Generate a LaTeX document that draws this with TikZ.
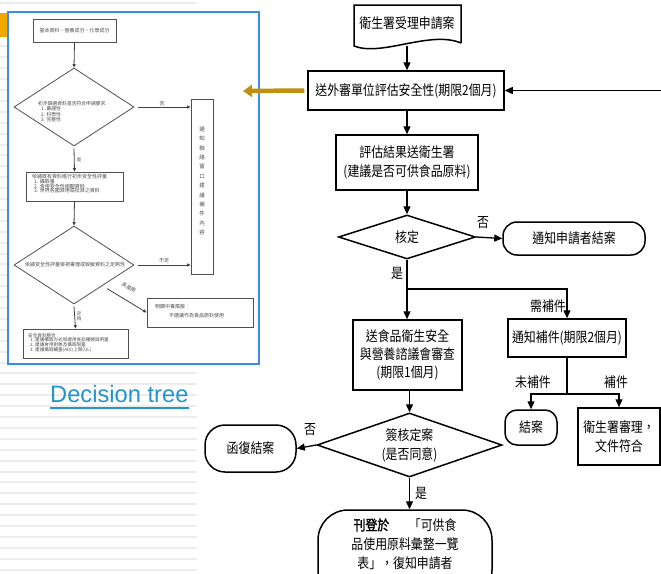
\documentclass[tikz,border=0pt]{standalone}
\usepackage{fontspec}
\setmainfont{Liberation Sans}
\newfontfamily\cjk[FakeStretch=0.85,AutoFakeBold=2]{Noto Sans CJK TC}
\newfontfamily\cjks{Noto Sans CJK TC}
\usetikzlibrary{arrows.meta,shapes.geometric,calc}
\definecolor{gold}{HTML}{C0900F}
\definecolor{insetblue}{HTML}{3D8BE8}
\definecolor{orangebar}{HTML}{F0A800}
\definecolor{linkblue}{HTML}{2394C8}
\definecolor{stripe}{HTML}{EDEDED}
\definecolor{ingray}{HTML}{505050}
\begin{document}
\begin{tikzpicture}[x=1pt,y=-1pt,
  txt/.style={font=\cjk\fontsize{14}{19}\selectfont},
  box/.style={draw,line width=1.5pt,inner sep=0pt,align=center,txt},
  term/.style={box},
  dia/.style={draw,diamond,line width=1.5pt,inner sep=0pt,align=center,txt},
  lbl/.style={txt,inner sep=0pt},
  ln/.style={line width=1.3pt},
  arr/.style={line width=1.3pt,-{Triangle[length=8pt,width=7pt]}},
  goldarr/.style={line width=4.5pt,gold,-{Triangle[length=9pt,width=12pt]}},
  ibox/.style={draw=ingray,line width=0.8pt,inner sep=0pt},
  idia/.style={draw=ingray,line width=0.8pt,diamond,inner sep=0pt},
  itxt/.style={font=\cjks\fontsize{5}{4.8}\selectfont,text=black!70,inner sep=0pt,align=left},
  iarr/.style={draw=black!75,line width=0.8pt,-{Triangle[length=3.5pt,width=3pt]}}]
\useasboundingbox (0,0) rectangle (661,573);
\clip (0,0) rectangle (661,573);
\fill[white] (0,0) rectangle (661,573);
\foreach \k in {0,...,52} \fill[stripe] (0,{1.8+10.9*\k}) rectangle (197,{3.8+10.9*\k});
\fill[orangebar] (0,13) rectangle (8,37);

% ---------- inset ----------
\fill[white] (8,12) rectangle (259,364);
\draw[insetblue,line width=1.5pt] (8,12) rectangle (259,364);
\node[ibox,minimum width=83,minimum height=23] (i1) at (74.5,30.5) {};
\node[itxt] (i1t) at (74.5,30.5) {基本資料、營養成分、化學成分};
\node[idia,minimum width=120,minimum height=78] (id1) at (74,107) {};
\node[itxt,anchor=north west,font=\cjks\fontsize{4.8}{3.8}\selectfont] (id1t) at (38,101) {初步篩選資料是否符合申請要求\\\hspace{0.6em}1. 嚴謹性\\\hspace{0.6em}2. 科學性\\\hspace{0.6em}3. 完整性};
\node[ibox,minimum width=22,minimum height=175] (i2) at (202,186.5) {};
\node[itxt,align=center,font=\cjks\fontsize{5.5}{9.4}\selectfont] (i2t) at (202,181) {通\\知\\聯\\絡\\窗\\口\\建\\議\\補\\件\\內\\容};
\node[ibox,minimum width=97,minimum height=29] (ib2) at (74.5,186.5) {};
\node[itxt,anchor=north west] (ib2t) at (32,174) {依據既有資料進行初步安全性評量\\\hspace{0.4em}1. 攝取量\\\hspace{0.4em}2. 食用安全性相關資料\\\hspace{0.4em}3. 世界各國准用或批准之資料};
\node[idia,minimum width=120,minimum height=78] (id2) at (74,265) {};
\node[itxt] (id2t) at (75,265) {依據安全性評量檢視毒理或致敏資料之足夠性};
\node[ibox,minimum width=106,minimum height=29] (ib3) at (200,312.5) {};
\node[itxt,anchor=north west,font=\cjks\fontsize{5}{9}\selectfont] (ib3t) at (155,304) {明顯中毒風險：\\\hspace{2.8em}不建議作為食品原料使用};
\node[ibox,minimum width=105,minimum height=29] (ib4) at (75.5,343.5) {};
\node[itxt,anchor=north west,font=\cjks\fontsize{4.6}{4.9}\selectfont] (ib4t) at (28,333) {安全資料整合：\\\hspace{0.4em}1. 建議攝取方式和適用食品種類與用量\\\hspace{0.4em}2. 建議食用對象及攝取限量\\\hspace{0.4em}3. 建議攝取輔量(ADI)上限(UL)};

\draw[iarr] (i1.south) -- (id1.north);
\draw[iarr] ([xshift=4pt]id1.east) -- (id1.east -| i2.west);
\draw[iarr] ([yshift=-2pt]id1.south) -- (ib2.north);
\draw[iarr] (ib2.south) -- (id2.north);
\draw[iarr] ([xshift=4pt]id2.east) -- (id2.east -| i2.west);
\draw[iarr] ([shift={(3pt,-4pt)}]id2.south east) -- (ib3.west);
\draw[iarr] ([yshift=-2pt]id2.south) -- (ib4.north);
\node[itxt] (il1) at (162,103.5) {否};
\node[itxt,align=center,font=\cjks\fontsize{4.5}{5}\selectfont] (il2) at (79,160) {是};
\node[itxt] (il3) at (164,260.5) {不足};
\node[itxt,rotate=-27] (il4) at (129,287.5) {具風險};
\node[itxt,align=center,font=\cjks\fontsize{4.5}{5}\selectfont] (il5) at (79,316) {足\\夠};

% ---------- Decision tree ----------
\node[font=\fontsize{23.7}{26}\selectfont,text=linkblue,inner sep=0pt,anchor=south west] (dt) at (50,403) {Decision tree};
\draw[linkblue,line width=1.4pt] ([yshift=-5pt]dt.south west) -- ([yshift=-5pt]dt.south east);

% ---------- right flowchart ----------
\draw[line width=1.5pt,line join=miter] (461,43) -- (461,5) -- (354,5) -- (354,46) .. controls (382,57) and (430,30) .. (461,43);
\node[txt,inner sep=0pt] (doc) at (407,23) {衛生署受理申請案};
\coordinate (docb) at (407,46);

\node[box,minimum width=196,minimum height=39] (b1) at (406,90.5) {送外審單位評估安全性(期限2個月)};
\node[box,minimum width=142,minimum height=55] (b2) at (407,162.5) {評估結果送衛生署\\(建議是否可供食品原料)};
\node[dia,minimum width=137,minimum height=44,aspect=3.1] (d1) at (407,237) {核定};
\node[term,rounded corners=14pt,minimum width=142,minimum height=33] (t1) at (574,238.5) {通知申請者結案};
\node[box,minimum width=109,minimum height=70,font=\cjk\fontsize{14}{18}\selectfont] (b3) at (407.5,355) {送食品衛生安全\\與營養諮議會審查\\(期限1個月)};
\node[box,minimum width=118,minimum height=38] (b4) at (567,338) {通知補件(期限2個月)};
\node[term,rounded corners=12pt,minimum width=52,minimum height=35] (t2) at (531,427.5) {結案};
\node[box,minimum width=82,minimum height=57] (b5) at (619,436.5) {衛生署審理，\\文件符合};
\node[dia,minimum width=185,minimum height=64,aspect=2.9] (d2) at (409.5,445) {簽核定案\\(是否同意)};
\node[term,rounded corners=20pt,minimum width=91,minimum height=47] (t3) at (250.5,448.5) {函復結案};
\node[term,rounded corners=30pt,minimum width=174,minimum height=90] (t4) at (405,555) {};
\node[txt,align=center,inner sep=0pt] (t4x) at (405,544) {\textbf{刊登於}\hspace{1.4em}「可供食\\品使用原料彙整一覽\\表」，復知申請者};

\coordinate (goldtip) at (243,91);
\coordinate (rin) at (662,90.5);
\coordinate (split1) at (407,289);
\coordinate (c4) at (567,289);
\coordinate (split2) at (567,394);

\draw[arr] (docb) -- (docb |- b1.north);
\draw[goldarr] ([xshift=-3pt]b1.west) -- (goldtip);
\draw[arr] (rin) -- (b1.east);
\draw[arr] (b2.north |- b1.south) -- (b2.north);
\draw[arr] (b2.south) -- (d1.north);
\draw[arr] (d1.east) -- (t1.west);
\draw[ln] (d1.south) -- (split1);
\draw[arr] (split1) -- (split1 |- b3.north);
\draw[arr] (split1) -- (c4) -- (b4.north);
\draw[ln] (b4.south) -- (split2);
\draw[arr] (split2) -| (t2.north);
\draw[arr] (split2) -| (b5.north);
\draw[arr] (d2.north |- b3.south) -- (d2.north);
\draw[arr] (d2.west) -- (t3.east);
\draw[arr] (d2.south) -- (d2.south |- t4.north);

\node[lbl] (l1) at (483,223) {否};
\node[lbl] (l2) at (397,273) {是};
\node[lbl] (l3) at (548,306) {需補件};
\node[lbl] (l4) at (533,382) {未補件};
\node[lbl] (l5) at (616,382) {補件};
\node[lbl] (l6) at (310,430) {否};
\node[lbl] (l7) at (421,493) {是};
\end{tikzpicture}
\end{document}
